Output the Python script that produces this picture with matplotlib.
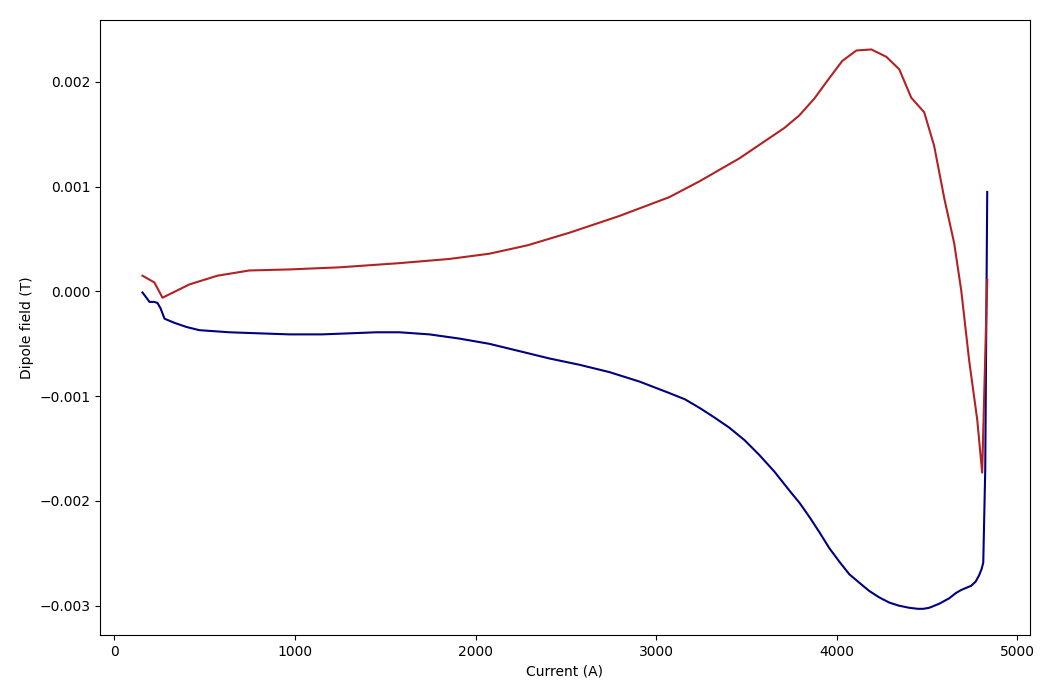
import numpy as np
import matplotlib.pyplot as plt

# up-ramp (red)
i_up = [155, 221, 266, 415, 570, 747, 969, 1246, 1578, 1855, 2076, 2287, 2519, 2796,
        3073, 3239, 3461, 3710, 3793, 3876, 3948, 4031, 4109, 4192, 4275, 4347, 4413,
        4485, 4540, 4596, 4651, 4690, 4734, 4779, 4806, 4834]
b_up = [0.000150, 0.000086, -0.00006, 0.000067, 0.00015, 0.00020, 0.00021, 0.00023,
        0.00027, 0.00031, 0.00036, 0.00044, 0.00056, 0.00072, 0.00090, 0.00105,
        0.00127, 0.00156, 0.00168, 0.00184, 0.00201, 0.00220, 0.00230, 0.00231,
        0.00224, 0.00212, 0.00185, 0.00171, 0.00139, 0.00089, 0.00046, 0.00001,
        -0.00066, -0.00123, -0.00173, 0.00011]

# down-ramp (blue)
i_dn = [155, 177, 194, 221, 238, 255, 277, 332, 400, 471, 637, 800, 969, 1150, 1301,
        1450, 1578, 1744, 1910, 2076, 2243, 2409, 2575, 2741, 2907, 3073, 3160, 3239,
        3320, 3405, 3490, 3571, 3655, 3738, 3795, 3848, 3905, 3959, 4015, 4070, 4125,
        4181, 4235, 4291, 4345, 4402, 4450, 4480, 4513, 4570, 4623, 4660, 4690, 4745,
        4770, 4789, 4803, 4812, 4823, 4834]
b_dn = [-0.00001, -0.00006, -0.00010, -0.00010, -0.00011, -0.00016, -0.00026, -0.00030,
        -0.00034, -0.00037, -0.00039, -0.00040, -0.00041, -0.00041, -0.00040, -0.00039,
        -0.00039, -0.00041, -0.00045, -0.00050, -0.00057, -0.00064, -0.00070, -0.00077,
        -0.00086, -0.00097, -0.00103, -0.00111, -0.00120, -0.00130, -0.00142, -0.00156,
        -0.00172, -0.00190, -0.00202, -0.00215, -0.00230, -0.00245, -0.00258, -0.00270,
        -0.00278, -0.00286, -0.00292, -0.00297, -0.00300, -0.00302, -0.00303, -0.00303,
        -0.00302, -0.00298, -0.00293, -0.00288, -0.00285, -0.00281, -0.00277, -0.00271,
        -0.00265, -0.00259, -0.00170, 0.00095]

fig, ax = plt.subplots(figsize=(10.53, 6.94), dpi=100)
ax.plot(i_dn, b_dn, color='navy', lw=1.5)
ax.plot(i_up, b_up, color='firebrick', lw=1.5)
ax.set_xlabel('Current (A)')
ax.set_ylabel('Dipole field (T)')
ax.set_xlim(-80, 5070)
ax.set_ylim(-0.00328, 0.00259)
plt.subplots_adjust(left=0.095, right=0.978, top=0.971, bottom=0.085)
plt.savefig('out.png')
